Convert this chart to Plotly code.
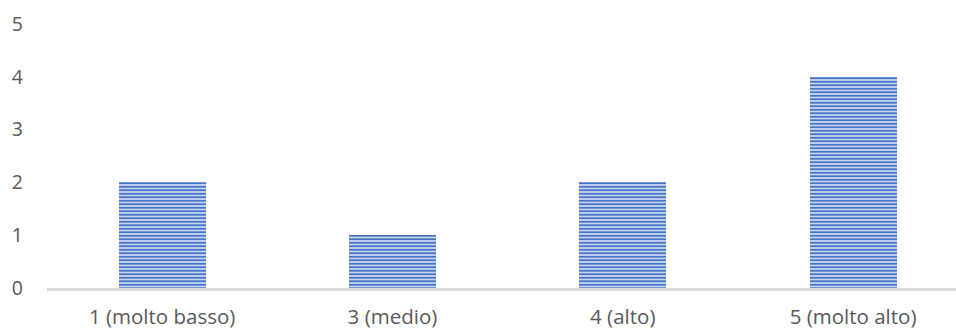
import plotly.graph_objects as go

categories = ["1 (molto basso)", "3 (medio)", "4 (alto)", "5 (molto alto)"]
values = [2, 1, 2, 4]
y_ticks = [0, 1, 2, 3, 4, 5]

fig = go.Figure(go.Bar(
    x=categories, y=values, width=0.378,
    marker=dict(
        color="#b4c7e7",
        line=dict(width=0),
        pattern=dict(shape="-", fgcolor="#4472c4", bgcolor="#c5d5f0", size=3.5, solidity=0.5, fillmode="replace"),
    ),
))

fig.update_layout(
    width=956, height=329,
    margin=dict(l=47, r=0, t=24, b=41),
    paper_bgcolor="white", plot_bgcolor="white",
    font=dict(family="Open Sans", size=20, color="#595959"),
    showlegend=False,
    bargap=0,
)
fig.update_xaxes(
    type="category", range=[-0.5, 3.447],
    showline=True, linecolor="#d9d9d9", linewidth=2.5,
    showgrid=False, ticks="", tickfont=dict(size=20.5), ticklabelstandoff=9,
)
fig.update_yaxes(
    range=[0, 5], tickvals=y_ticks, showgrid=False, zeroline=False,
    showline=False, ticks="", tickfont=dict(size=19.5), ticklabelstandoff=23,
)
fig.write_html("out.html")
